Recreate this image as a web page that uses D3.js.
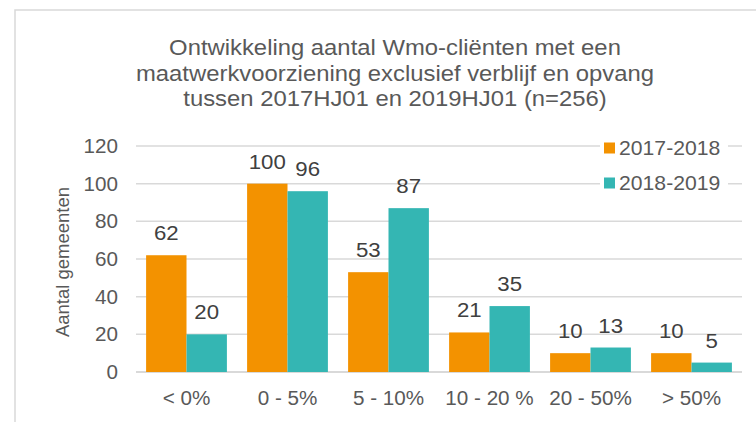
<!DOCTYPE html>
<html>
<head>
<meta charset="utf-8">
<script src="https://cdn.jsdelivr.net/npm/d3@7"></script>
<style>
  body { margin: 0; background: #fff; }
  text { font-family: "Liberation Sans", Arial, sans-serif; }
</style>
</head>
<body>
<svg id="chart"></svg>
<script>
const categories = ["< 0%", "0 - 5%", "5 - 10%", "10 - 20 %", "20 - 50%", "> 50%"];
const seriesNames = ["2017-2018", "2018-2019"];
const values2017 = [62, 100, 53, 21, 10, 10];
const values2018 = [20, 96, 87, 35, 13, 5];
const yTicks = [0, 20, 40, 60, 80, 100, 120];
const titleLines = [
    "Ontwikkeling aantal Wmo-cliënten met een",
    "maatwerkvoorziening exclusief verblijf en opvang",
    "tussen 2017HJ01 en 2019HJ01 (n=256)"
];
const colors = ["#f39200", "#34b6b3"];

var width = 756, height = 422;
var margin = { left: 136, right: 14, top: 146, bottom: 50 };
var sx = 1.06; // the reference text is a little wider than it is tall

var svg = d3.select("#chart")
    .attr("width", width)
    .attr("height", height);

function place(x, y) {
    return "translate(" + x + "," + y + ") scale(" + sx + ",1)";
}

// chart area border (only top/left visible in the crop)
svg.append("path")
    .attr("d", "M15," + (height + 5) + "V10H" + (width + 5))
    .attr("fill", "none")
    .attr("stroke", "#d9d9d9")
    .attr("stroke-width", 1.5);

// title
svg.append("g")
    .selectAll("text")
    .data(titleLines)
    .join("text")
    .attr("transform", (d, i) => place(395, 55 + i * 25.5))
    .attr("text-anchor", "middle")
    .attr("fill", "#595959")
    .style("font-size", "22.5px")
    .text(d => d);

var x0 = d3.scaleBand()
    .domain(categories)
    .range([margin.left, width - margin.right])
    .paddingInner(0.2)
    .paddingOuter(0.1);

var x1 = d3.scaleBand()
    .domain(seriesNames)
    .range([0, x0.bandwidth()]);

var y = d3.scaleLinear()
    .domain([0, 120])
    .range([372, 146]);

// gridlines
svg.append("g")
    .selectAll("line")
    .data(yTicks)
    .join("line")
    .attr("x1", margin.left)
    .attr("x2", width - margin.right)
    .attr("y1", d => y(d))
    .attr("y2", d => y(d))
    .attr("stroke", "#d9d9d9")
    .attr("stroke-width", d => d == 0 ? 2 : 1.5);

// y tick labels
svg.append("g")
    .selectAll("text")
    .data(yTicks)
    .join("text")
    .attr("transform", d => place(118, y(d)))
    .attr("dy", "0.35em")
    .attr("text-anchor", "end")
    .attr("fill", "#595959")
    .style("font-size", "19.5px")
    .text(d => d);

// y axis title
svg.append("text")
    .attr("transform", "translate(69,262) rotate(-90)")
    .attr("text-anchor", "middle")
    .attr("fill", "#595959")
    .style("font-size", "18.5px")
    .text("Aantal gemeenten");

// x labels
svg.append("g")
    .selectAll("text")
    .data(categories)
    .join("text")
    .attr("transform", d => place(x0(d) + x0.bandwidth() / 2, 405))
    .attr("text-anchor", "middle")
    .attr("fill", "#595959")
    .style("font-size", "19.5px")
    .text(d => d);

var rows = categories.map((c, i) => ({
    cat: c,
    vals: [
        { s: seriesNames[0], v: values2017[i], c: colors[0] },
        { s: seriesNames[1], v: values2018[i], c: colors[1] }
    ]
}));

var groups = svg.append("g")
    .selectAll("g")
    .data(rows)
    .join("g")
    .attr("transform", d => "translate(" + x0(d.cat) + ",0)");

groups.selectAll("rect")
    .data(d => d.vals)
    .join("rect")
    .attr("x", d => x1(d.s))
    .attr("y", d => y(d.v))
    .attr("width", x1.bandwidth())
    .attr("height", d => y(0) - y(d.v))
    .attr("fill", d => d.c);

groups.selectAll("text")
    .data(d => d.vals)
    .join("text")
    .attr("transform", d => place(x1(d.s) + x1.bandwidth() / 2, y(d.v) - 15))
    .attr("text-anchor", "middle")
    .attr("fill", "#404040")
    .style("font-size", "21px")
    .text(d => d.v);

// legend
var legend = svg.append("g");
legend.append("rect")
    .attr("x", 600)
    .attr("y", 134)
    .attr("width", 128)
    .attr("height", 62)
    .attr("fill", "#fff");

var item = legend.selectAll("g")
    .data(seriesNames)
    .join("g")
    .attr("transform", (d, i) => "translate(604," + (148 + i * 35) + ")");

item.append("rect")
    .attr("x", 0)
    .attr("y", -5.5)
    .attr("width", 11)
    .attr("height", 11)
    .attr("fill", (d, i) => colors[i]);

item.append("text")
    .attr("transform", place(15, 0))
    .attr("dy", "0.35em")
    .attr("fill", "#595959")
    .style("font-size", "20px")
    .text(d => d);
</script>
</body>
</html>
